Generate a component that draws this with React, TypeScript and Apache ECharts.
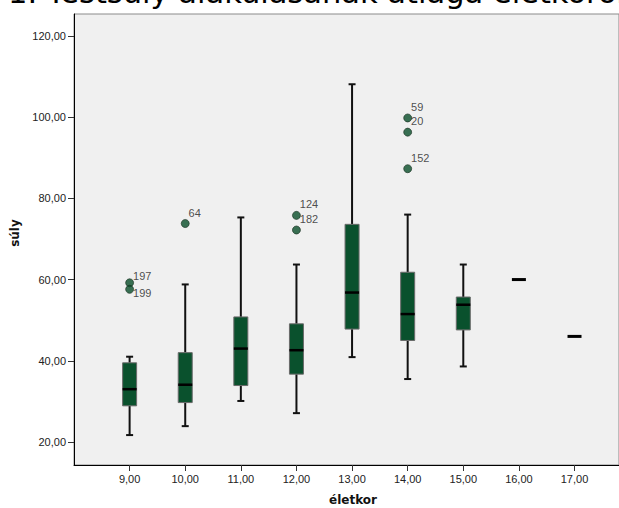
import React, { useEffect, useRef } from "react";
import * as echarts from "echarts";

// Age groups (életkor)
const ages = [9, 10, 11, 12, 13, 14, 15, 16, 17];
// Box plot statistics of weight (súly) by age
const whiskerLow = [21.7, 23.9, 30.1, 27.1, 40.9, 35.5, 38.6, 60.0, 46.0];
const q1 = [28.9, 29.7, 33.9, 36.7, 47.8, 45.0, 47.6, 60.0, 46.0];
const median = [33.0, 34.1, 43.0, 42.6, 56.8, 51.5, 53.8, 60.0, 46.0];
const q3 = [39.5, 42.0, 50.8, 49.1, 73.6, 61.8, 55.7, 60.0, 46.0];
const whiskerHigh = [41.0, 58.8, 75.3, 63.7, 108.1, 76.0, 63.7, 60.0, 46.0];

// Outliers: age, weight, case id
const outlierAges = [9, 9, 10, 12, 12, 14, 14, 14];
const outlierValues = [59.2, 57.6, 73.8, 75.8, 72.2, 99.8, 96.3, 87.3];
const outlierIds = ["197", "199", "64", "124", "182", "59", "20", "152"];

// Tick values
const xTicks = [9, 10, 11, 12, 13, 14, 15, 16, 17];
const yTicks = [20, 40, 60, 80, 100, 120];

const fmt = (v: number) => v.toFixed(2).replace(".", ",");

export default function App() {
  const ref = useRef<HTMLDivElement>(null);

  useEffect(() => {
    if (!ref.current) return;
    const chart = echarts.init(ref.current, undefined, { renderer: "svg" });

    const boxData = ages.map((a, i) => [a, whiskerLow[i], q1[i], median[i], q3[i], whiskerHigh[i]]);

    const labelTweaks: Record<string, number[]> = { "197": [0, -7], "199": [0, 4] };
    const outlierData = outlierAges.map((a, i) => {
      const id = outlierIds[i];
      const item: any = { value: [a, outlierValues[i], id] };
      if (labelTweaks[id]) item.label = { offset: labelTweaks[id] };
      return item;
    });

    const option: any = {
      animation: false,
      backgroundColor: "#ffffff",
      grid: {
        left: 74,
        top: 14,
        right: -1,
        bottom: 43,
        show: true,
        backgroundColor: "#f0f0f0",
        borderColor: "#8a8a8a",
        borderWidth: 1,
      },
      xAxis: {
        type: "value",
        min: 8,
        max: 17.8,
        interval: 1,
        axisLine: { show: true, lineStyle: { color: "#000", width: 1 } },
        axisTick: { show: true, length: 6, customValues: xTicks, lineStyle: { color: "#333" } },
        axisLabel: {
          customValues: xTicks,
          formatter: (v: number) => fmt(v),
          fontFamily: "Liberation Sans, Arial, sans-serif",
          fontSize: 11,
          color: "#222",
          margin: 8,
        },
        splitLine: { show: false },
      },
      yAxis: {
        type: "value",
        min: 14.33,
        max: 125.4,
        axisLine: { show: true, lineStyle: { color: "#000", width: 1 } },
        axisTick: { show: true, length: 6, customValues: yTicks, lineStyle: { color: "#333" } },
        axisLabel: {
          customValues: yTicks,
          formatter: (v: number) => fmt(v),
          fontFamily: "Liberation Sans, Arial, sans-serif",
          fontSize: 11,
          color: "#222",
          margin: 8,
        },
        splitLine: { show: false },
      },
      graphic: [
        {
          type: "text",
          left: 8,
          top: -23,
          style: {
            text: "1. Testsúly alakulásának átlaga életkoronként",
            font: "30.5px 'DejaVu Sans'",
            fill: "#000",
          },
        },
        {
          type: "text",
          x: 15,
          y: 233,
          rotation: Math.PI / 2,
          style: {
            text: "súly",
            font: "bold 12px 'DejaVu Sans'",
            fill: "#111",
            textAlign: "center",
            textVerticalAlign: "middle",
          },
        },
        {
          type: "text",
          x: 353,
          y: 500,
          style: {
            text: "életkor",
            font: "bold 12px 'DejaVu Sans'",
            fill: "#111",
            textAlign: "center",
            textVerticalAlign: "middle",
          },
        },
      ],
      series: [
        {
          type: "custom",
          data: boxData,
          encode: { x: 0, y: [1, 2, 3, 4, 5] },
          z: 2,
          renderItem: (params: any, api: any) => {
            const x = api.value(0);
            const lo = api.value(1);
            const b1 = api.value(2);
            const md = api.value(3);
            const b3 = api.value(4);
            const hi = api.value(5);
            const pLo = api.coord([x, lo]);
            const p1 = api.coord([x, b1]);
            const pM = api.coord([x, md]);
            const p3 = api.coord([x, b3]);
            const pHi = api.coord([x, hi]);
            const cx = pM[0];
            const hw = 7;
            const cap = 3.5;
            const children: any[] = [];
            if (b3 > b1) {
              const ws = { stroke: "#111", lineWidth: 2 };
              children.push(
                { type: "line", shape: { x1: cx, y1: pLo[1], x2: cx, y2: p1[1] }, style: ws },
                { type: "line", shape: { x1: cx, y1: p3[1], x2: cx, y2: pHi[1] }, style: ws },
                { type: "line", shape: { x1: cx - cap, y1: pLo[1], x2: cx + cap, y2: pLo[1] }, style: ws },
                { type: "line", shape: { x1: cx - cap, y1: pHi[1], x2: cx + cap, y2: pHi[1] }, style: ws },
                {
                  type: "rect",
                  shape: { x: cx - hw, y: p3[1], width: hw * 2, height: p1[1] - p3[1] },
                  style: { fill: "#0a512d", stroke: "#6a6a6a", lineWidth: 1 },
                },
                {
                  type: "line",
                  shape: { x1: cx - hw, y1: pM[1], x2: cx + hw, y2: pM[1] },
                  style: { stroke: "#000", lineWidth: 2.5 },
                }
              );
            } else {
              children.push({
                type: "line",
                shape: { x1: cx - hw, y1: pM[1], x2: cx + hw, y2: pM[1] },
                style: { stroke: "#000", lineWidth: 3 },
              });
            }
            return { type: "group", children };
          },
        },
        {
          type: "scatter",
          data: outlierData,
          z: 3,
          symbol: "circle",
          symbolSize: 8,
          itemStyle: { color: "#0a4f2b", borderColor: "#17301f", borderWidth: 0.8 },
          label: {
            show: true,
            position: "right",
            distance: -1,
            offset: [0, -11],
            formatter: (p: any) => p.value[2],
            fontFamily: "Liberation Sans, Arial, sans-serif",
            fontSize: 11,
            color: "#222",
          },
        },
      ],
    };

    chart.setOption(option);
    return () => chart.dispose();
  }, []);

  return (
    <div
      ref={ref}
      style={{ position: "absolute", left: 0, top: 0, width: 619, height: 508 }}
    />
  );
}
